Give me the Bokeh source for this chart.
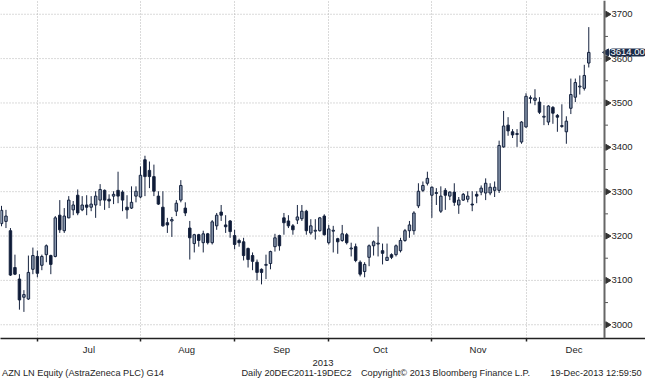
import math
from bokeh.plotting import figure
from bokeh.models import Range1d, FixedTicker, Label, ColumnDataSource, LinearAxis, Span
from bokeh.core.properties import value
from bokeh.embed import file_html
from bokeh.resources import INLINE

# ---- data ----
open_ = [3228, 3233, 3212, 3129, 3103, 3062, 3058, 3125, 3154, 3134,
         3158, 3156, 3154, 3247, 3212, 3241, 3259, 3292, 3259, 3270,
         3265, 3270, 3281, 3303, 3283, 3290, 3303, 3299, 3265, 3263,
         3290, 3288, 3372, 3348, 3334, 3290, 3265, 3230, 3234, 3256,
         3281, 3263, 3218, 3183, 3203, 3185, 3205, 3185, 3223, 3254,
         3225, 3234, 3201, 3190, 3187, 3172, 3156, 3141, 3125, 3134,
         3138, 3176, 3201, 3241, 3234, 3223, 3236, 3239, 3256, 3207,
         3211, 3212, 3245, 3185, 3211, 3194, 3190, 3203, 3171, 3176,
         3141, 3120, 3152, 3178, 3182, 3167, 3145, 3158, 3158, 3167,
         3190, 3212, 3212, 3268, 3303, 3319, 3292, 3296, 3256, 3303,
         3290, 3299, 3270, 3281, 3283, 3272, 3294, 3299, 3297, 3297,
         3303, 3303, 3401, 3450, 3435, 3429, 3412, 3446, 3510, 3506,
         3502, 3468, 3457, 3490, 3472, 3447, 3435, 3488, 3513, 3536,
         3533, 3590]
high = [3268, 3259, 3218, 3158, 3114, 3078, 3156, 3174, 3167, 3158,
        3181, 3158, 3245, 3281, 3263, 3290, 3279, 3305, 3290, 3292,
        3290, 3301, 3317, 3305, 3294, 3301, 3345, 3303, 3292, 3312,
        3312, 3357, 3381, 3368, 3361, 3301, 3301, 3241, 3243, 3281,
        3326, 3276, 3234, 3205, 3205, 3212, 3207, 3236, 3252, 3270,
        3247, 3236, 3214, 3194, 3196, 3174, 3163, 3147, 3127, 3158,
        3167, 3205, 3203, 3252, 3247, 3227, 3270, 3270, 3259, 3238,
        3238, 3243, 3249, 3225, 3223, 3196, 3225, 3207, 3185, 3183,
        3145, 3141, 3181, 3190, 3221, 3183, 3183, 3161, 3181, 3196,
        3216, 3234, 3256, 3319, 3323, 3345, 3312, 3308, 3312, 3308,
        3301, 3319, 3288, 3297, 3301, 3301, 3301, 3314, 3330, 3319,
        3323, 3415, 3482, 3468, 3441, 3441, 3459, 3522, 3517, 3531,
        3513, 3495, 3495, 3493, 3475, 3497, 3470, 3555, 3555, 3562,
        3586, 3671]
low = [3222, 3218, 3110, 3112, 3034, 3029, 3056, 3114, 3107, 3123,
       3141, 3114, 3152, 3207, 3207, 3240, 3247, 3247, 3256, 3247,
       3256, 3241, 3268, 3259, 3263, 3272, 3274, 3256, 3239, 3261,
       3276, 3285, 3290, 3308, 3290, 3270, 3221, 3207, 3198, 3245,
       3276, 3245, 3147, 3163, 3176, 3163, 3181, 3181, 3214, 3234,
       3207, 3196, 3170, 3176, 3145, 3129, 3123, 3100, 3091, 3103,
       3125, 3165, 3167, 3203, 3218, 3203, 3227, 3234, 3203, 3203,
       3192, 3210, 3201, 3181, 3163, 3160, 3187, 3181, 3154, 3141,
       3109, 3107, 3132, 3156, 3154, 3136, 3145, 3148, 3154, 3163,
       3187, 3196, 3203, 3263, 3299, 3314, 3241, 3270, 3252, 3259,
       3281, 3268, 3250, 3279, 3276, 3256, 3274, 3292, 3281, 3292,
       3288, 3297, 3399, 3426, 3421, 3401, 3408, 3444, 3499, 3495,
       3475, 3450, 3450, 3453, 3435, 3444, 3408, 3475, 3502, 3519,
       3528, 3580]
close = [3258, 3245, 3112, 3114, 3056, 3068, 3118, 3156, 3116, 3154,
         3178, 3136, 3241, 3214, 3245, 3281, 3270, 3252, 3270, 3265,
         3272, 3290, 3305, 3281, 3279, 3294, 3290, 3281, 3259, 3276,
         3301, 3337, 3334, 3334, 3301, 3272, 3223, 3225, 3237, 3274,
         3314, 3252, 3196, 3203, 3190, 3205, 3185, 3232, 3247, 3247,
         3221, 3210, 3181, 3185, 3156, 3147, 3143, 3118, 3118, 3136,
         3165, 3196, 3178, 3230, 3223, 3214, 3243, 3256, 3212, 3223,
         3213, 3241, 3203, 3216, 3213, 3187, 3205, 3185, 3173, 3145,
         3114, 3136, 3178, 3187, 3184, 3161, 3152, 3152, 3178, 3190,
         3212, 3225, 3252, 3301, 3314, 3330, 3310, 3298, 3290, 3292,
         3299, 3276, 3281, 3294, 3290, 3270, 3290, 3308, 3319, 3310,
         3310, 3404, 3448, 3437, 3428, 3431, 3457, 3515, 3512, 3511,
         3479, 3470, 3493, 3477, 3468, 3449, 3459, 3519, 3546, 3538,
         3562, 3614]

month_labels = ["Jul", "Aug", "Sep", "Oct", "Nov", "Dec"]
month_start_idx = [8, 31, 52, 73, 96, 117]
month_label_idx = [19.5, 41.3, 62.5, 84.5, 106.3, 127.7]
price_ticks = [3000, 3100, 3200, 3300, 3400, 3500, 3600, 3700]
price_minor_ticks = [3050, 3150, 3250, 3350, 3450, 3550, 3650]
year_label = "2013"
footer = ["AZN LN Equity (AstraZeneca PLC) G14",
          "Daily 20DEC2011-19DEC2",
          "Copyright\u00a9 2013 Bloomberg Finance L.P.",
          "19-Dec-2013 12:59:50"]

# ---- layout / styles ----
FONT = "Liberation Sans"
NAVY = "#16233f"
TAG = "#1b2b48"
UP_FILL = "#8b9ab0"
DOWN_FILL = "#0e1a36"
TXT = "#1e1e1e"
GRID = "#b4b4b4"
W, H = 645, 380
FRAME_H = 342
X0, PPU = -0.223, 4.483          # data x at left edge, pixels per trading day


def px2x(px):
    return round(X0 + px / PPU, 3)


AXIS_X = px2x(604)

idx = list(range(len(close)))
src = ColumnDataSource(dict(
    x=idx, o=open_, h=high, l=low, c=close,
    top=[max(a, b) for a, b in zip(open_, close)],
    bot=[min(a, b) for a, b in zip(open_, close)],
    fill=[UP_FILL if c >= o else DOWN_FILL for o, c in zip(open_, close)],
))

p = figure(width=W, height=H, output_backend="svg", toolbar_location=None,
           x_range=Range1d(X0, px2x(W)), y_range=Range1d(2969, 3731),
           y_axis_location=None, min_border_left=0, min_border_top=0,
           min_border_right=0, min_border_bottom=H - FRAME_H)
p.outline_line_color = None
p.background_fill_color = "white"
p.border_fill_color = "white"

# vertical grid at month starts
p.xgrid.ticker = FixedTicker(ticks=month_start_idx)
p.xgrid.grid_line_color = GRID
p.xgrid.grid_line_dash = "1 2"
for g in p.ygrid:
    g.visible = False

# horizontal grid (stops at the price axis)
p.segment(x0=[X0] * len(price_ticks), x1=[px2x(603)] * len(price_ticks),
          y0=price_ticks, y1=price_ticks, line_color=GRID, line_dash="1 2", line_width=1)

# candles
p.segment(x0="x", y0="l", x1="x", y1="h", source=src, line_color=NAVY, line_width=1)
p.vbar(x="x", width=0.55, top="top", bottom="bot", source=src,
       fill_color="fill", line_color=NAVY, line_width=1)

# price axis on the right (inside the frame)
p.add_layout(Span(location=AXIS_X, dimension="height", line_color="#666666", line_width=2))
p.segment(x0=[AXIS_X] * len(price_minor_ticks), x1=[px2x(607.5)] * len(price_minor_ticks),
          y0=price_minor_ticks, y1=price_minor_ticks, line_color="#555555", line_width=1)
p.scatter(x=[px2x(607)] * len(price_ticks), y=price_ticks, marker="triangle",
          angle=-math.pi / 2, size=6, fill_color="#333333", line_color="#333333")
p.text(x=[px2x(611)] * len(price_ticks), y=price_ticks, text=[str(t) for t in price_ticks],
       text_font=value(FONT), text_font_size="9.5px", text_color=TXT,
       text_baseline="middle", text_align="left")

# last price tag
p.scatter(x=[px2x(606)], y=[close[-1]], marker="triangle", angle=math.pi / 2, size=7,
          fill_color=TAG, line_color=TAG)
p.add_layout(Label(x=px2x(609), y=close[-1], text=f"{close[-1]:.2f}", text_font=FONT,
                   text_font_size="9.5px", text_color="white", text_baseline="middle",
                   text_align="left", background_fill_color=TAG, padding=1, border_radius=3))

# x axis: ticks at month starts, labels mid-month
xa = p.xaxis[0]
xa.ticker = FixedTicker(ticks=month_label_idx, minor_ticks=month_start_idx)
xa.major_label_overrides = {k: v for k, v in zip(month_label_idx, month_labels)}
xa.major_tick_line_color = None
xa.major_tick_out = 0
xa.major_tick_in = 0
xa.minor_tick_out = 3
xa.minor_tick_in = 0
xa.minor_tick_line_color = "#222222"
xa.minor_tick_line_width = 1.5
xa.axis_line_color = "#222222"
xa.axis_line_width = 1.5
xa.major_label_text_font = FONT
xa.major_label_text_font_size = "9.5px"
xa.major_label_text_color = TXT
xa.major_label_standoff = 2
xa.axis_label = year_label
xa.axis_label_text_font = FONT
xa.axis_label_text_font_size = "9.5px"
xa.axis_label_text_font_style = "normal"
xa.axis_label_text_color = TXT
xa.axis_label_standoff = 2

# footer line as a label-only axis (labels are centred on their ticks)
footer_center_px = [82.5, 296, 445, 595.5]
footer_ticks = [px2x(v) for v in footer_center_px]
fa = LinearAxis(ticker=FixedTicker(ticks=footer_ticks, minor_ticks=[]),
                major_label_overrides={k: v for k, v in zip(footer_ticks, footer)})
fa.axis_line_color = None
fa.major_tick_line_color = None
fa.minor_tick_line_color = None
fa.major_tick_out = 0
fa.major_tick_in = 0
fa.major_label_standoff = -1
fa.major_label_text_font = FONT
fa.major_label_text_font_size = "9.2px"
fa.major_label_text_color = TXT
p.add_layout(fa, "below")

open("out.html", "w").write(file_html(p, INLINE))
